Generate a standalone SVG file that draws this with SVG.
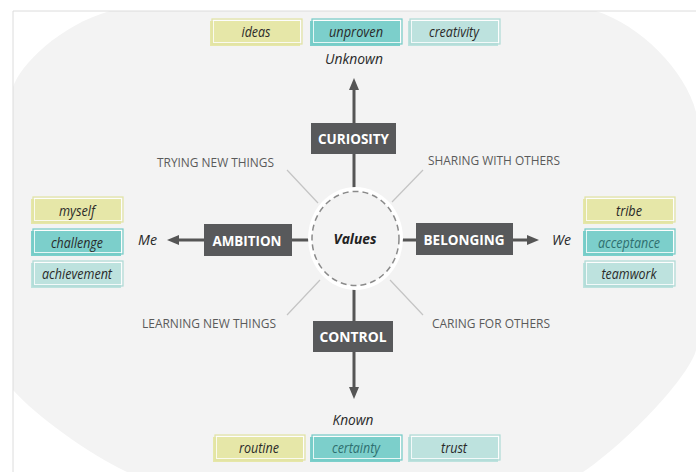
<svg xmlns="http://www.w3.org/2000/svg" width="696" height="472" viewBox="0 0 696 472">
<defs>
<style>
.box{fill:#58595b}
.boxt{font-family:"Open Sans","DejaVu Sans",sans-serif;font-weight:bold;font-size:15px;fill:#ffffff;text-anchor:middle}
.tag{font-family:"Open Sans","DejaVu Sans",sans-serif;font-style:italic;font-size:14.5px;fill:#2a2a2a;text-anchor:middle}
.dt{fill:#2f6f70}
.dir{font-family:"Open Sans","DejaVu Sans",sans-serif;font-style:italic;font-size:15px;fill:#2a2a2a;text-anchor:middle}
.spk{font-family:"Open Sans","DejaVu Sans",sans-serif;font-size:13px;fill:#5a5a5a}
.ylw{fill:#e6e7a8}
.ylwo{fill:none;stroke:#e1e3a2;stroke-width:1.2}
.tl{fill:#7ccfcb}
.tlo{fill:none;stroke:#74cbc7;stroke-width:1.2}
.lt{fill:#bde2de}
.lto{fill:none;stroke:#addbd6;stroke-width:1.2}
.wl{fill:none;stroke:#ffffff;stroke-width:1;opacity:0.8}
.main{stroke:#555555;stroke-width:3;fill:none}
.thin{stroke:#c4c4c4;stroke-width:1.2;fill:none}
</style>
<marker id="ah" markerUnits="userSpaceOnUse" markerWidth="12" markerHeight="10" refX="1" refY="5" orient="auto">
<path d="M0,0 L12,5 L0,10 z" fill="#555555"/>
</marker>
</defs>

<rect x="0" y="0" width="696" height="472" fill="#ffffff"/>
<path d="M110,11 L596,11 C640,25 685,70 696,112 L696,350 C690,375 630,440 583,472 L127,472 C90,455 35,415 13,390 L13,87 C20,65 60,25 110,11 Z" fill="#f3f3f3"/>
<path d="M13,472 L13,11 L696,11" fill="none" stroke="#dcdcdc" stroke-width="1"/>

<g id="connectors">
<line class="main" x1="354" y1="190" x2="354" y2="89" marker-end="url(#ah)"/>
<line class="main" x1="354" y1="288" x2="354" y2="388" marker-end="url(#ah)"/>
<line class="main" x1="310" y1="240" x2="178" y2="240" marker-end="url(#ah)"/>
<line class="main" x1="400" y1="240" x2="528" y2="240" marker-end="url(#ah)"/>
<line class="thin" x1="287" y1="170" x2="318" y2="203"/>
<line class="thin" x1="423" y1="170" x2="392" y2="202"/>
<line class="thin" x1="287" y1="315" x2="320" y2="280"/>
<line class="thin" x1="423" y1="315" x2="390" y2="280"/>
</g>

<g id="values">
<ellipse cx="355.5" cy="238.5" rx="47.5" ry="51.5" fill="#ffffff"/>
<ellipse cx="355.5" cy="238.5" rx="43.5" ry="47" fill="#f3f3f3" stroke="#8a8a8a" stroke-width="1.5" stroke-dasharray="6 4"/>
<text x="355" y="243.5" font-family="'Open Sans','DejaVu Sans',sans-serif" font-weight="bold" font-style="italic" font-size="15" fill="#222222" text-anchor="middle" textLength="43" lengthAdjust="spacingAndGlyphs">Values</text>
</g>

<g id="curiosity">
<rect class="box" x="311" y="123" width="85" height="31"/>
<text class="boxt" x="353.5" y="144" textLength="71" lengthAdjust="spacingAndGlyphs">CURIOSITY</text>
</g>
<g id="control">
<rect class="box" x="313" y="321" width="80" height="31"/>
<text class="boxt" x="353" y="342" textLength="67" lengthAdjust="spacingAndGlyphs">CONTROL</text>
</g>
<g id="ambition">
<rect class="box" x="204" y="224" width="88" height="32"/>
<text class="boxt" x="247" y="245.5" textLength="69" lengthAdjust="spacingAndGlyphs">AMBITION</text>
</g>
<g id="belonging">
<rect class="box" x="416" y="223" width="97" height="32"/>
<text class="boxt" x="464" y="244.5" textLength="81" lengthAdjust="spacingAndGlyphs">BELONGING</text>
</g>

<g id="dir-labels">
<text class="dir" x="354" y="64" textLength="58" lengthAdjust="spacingAndGlyphs">Unknown</text>
<text class="dir" x="353" y="425" textLength="41" lengthAdjust="spacingAndGlyphs">Known</text>
<text class="dir" x="147.5" y="245" textLength="19" lengthAdjust="spacingAndGlyphs">Me</text>
<text class="dir" x="561.5" y="245" textLength="19" lengthAdjust="spacingAndGlyphs">We</text>
</g>

<g id="spoke-labels">
<text class="spk" x="157" y="167" textLength="117" lengthAdjust="spacingAndGlyphs">TRYING NEW THINGS</text>
<text class="spk" x="428" y="165" textLength="132" lengthAdjust="spacingAndGlyphs">SHARING WITH OTHERS</text>
<text class="spk" x="142" y="328" textLength="134" lengthAdjust="spacingAndGlyphs">LEARNING NEW THINGS</text>
<text class="spk" x="432" y="328" textLength="118" lengthAdjust="spacingAndGlyphs">CARING FOR OTHERS</text>
</g>

<g id="tag-ideas"><rect class="ylw" x="210" y="21" width="90" height="25"/><rect class="ylwo" x="212" y="19" width="90" height="25"/><rect class="wl" x="213.5" y="20.5" width="87" height="22"/><text class="tag" x="256" y="36.5" textLength="29" lengthAdjust="spacingAndGlyphs">ideas</text></g>
<g id="tag-unproven"><rect class="tl" x="310" y="21" width="90" height="25"/><rect class="tlo" x="312" y="19" width="90" height="25"/><rect class="wl" x="313.5" y="20.5" width="87" height="22"/><text class="tag" x="356" y="36.5" textLength="54" lengthAdjust="spacingAndGlyphs">unproven</text></g>
<g id="tag-creativity"><rect class="lt" x="408" y="21" width="90" height="25"/><rect class="lto" x="410" y="19" width="90" height="25"/><rect class="wl" x="411.5" y="20.5" width="87" height="22"/><text class="tag" x="454" y="36.5" textLength="50" lengthAdjust="spacingAndGlyphs">creativity</text></g>

<g id="tag-myself"><rect class="ylw" x="31" y="199" width="90" height="25"/><rect class="ylwo" x="33" y="197" width="90" height="25"/><rect class="wl" x="34.5" y="198.5" width="87" height="22"/><text class="tag" x="77" y="215.5" textLength="36" lengthAdjust="spacingAndGlyphs">myself</text></g>
<g id="tag-challenge"><rect class="tl" x="31" y="231" width="90" height="25"/><rect class="tlo" x="33" y="229" width="90" height="25"/><rect class="wl" x="34.5" y="230.5" width="87" height="22"/><text class="tag" x="77" y="247.5" textLength="52" lengthAdjust="spacingAndGlyphs">challenge</text></g>
<g id="tag-achievement"><rect class="lt" x="31" y="263" width="90" height="25"/><rect class="lto" x="33" y="261" width="90" height="25"/><rect class="wl" x="34.5" y="262.5" width="87" height="22"/><text class="tag" x="77" y="278.5" textLength="70" lengthAdjust="spacingAndGlyphs">achievement</text></g>

<g id="tag-tribe"><rect class="ylw" x="583" y="199" width="90" height="25"/><rect class="ylwo" x="585" y="197" width="90" height="25"/><rect class="wl" x="586.5" y="198.5" width="87" height="22"/><text class="tag" x="629" y="215.5" textLength="26" lengthAdjust="spacingAndGlyphs">tribe</text></g>
<g id="tag-acceptance"><rect class="tl" x="583" y="231" width="90" height="25"/><rect class="tlo" x="585" y="229" width="90" height="25"/><rect class="wl" x="586.5" y="230.5" width="87" height="22"/><text class="tag dt" x="629" y="247.5" textLength="62" lengthAdjust="spacingAndGlyphs">acceptance</text></g>
<g id="tag-teamwork"><rect class="lt" x="583" y="263" width="90" height="25"/><rect class="lto" x="585" y="261" width="90" height="25"/><rect class="wl" x="586.5" y="262.5" width="87" height="22"/><text class="tag" x="629" y="278.5" textLength="55" lengthAdjust="spacingAndGlyphs">teamwork</text></g>

<g id="tag-routine"><rect class="ylw" x="213" y="437" width="90" height="25"/><rect class="ylwo" x="215" y="435" width="90" height="25"/><rect class="wl" x="216.5" y="436.5" width="87" height="22"/><text class="tag" x="259" y="452.5" textLength="40" lengthAdjust="spacingAndGlyphs">routine</text></g>
<g id="tag-certainty"><rect class="tl" x="310" y="437" width="90" height="25"/><rect class="tlo" x="312" y="435" width="90" height="25"/><rect class="wl" x="313.5" y="436.5" width="87" height="22"/><text class="tag dt" x="356" y="452.5" textLength="48" lengthAdjust="spacingAndGlyphs">certainty</text></g>
<g id="tag-trust"><rect class="lt" x="408" y="437" width="90" height="25"/><rect class="lto" x="410" y="435" width="90" height="25"/><rect class="wl" x="411.5" y="436.5" width="87" height="22"/><text class="tag" x="454" y="452.5" textLength="26" lengthAdjust="spacingAndGlyphs">trust</text></g>
</svg>
